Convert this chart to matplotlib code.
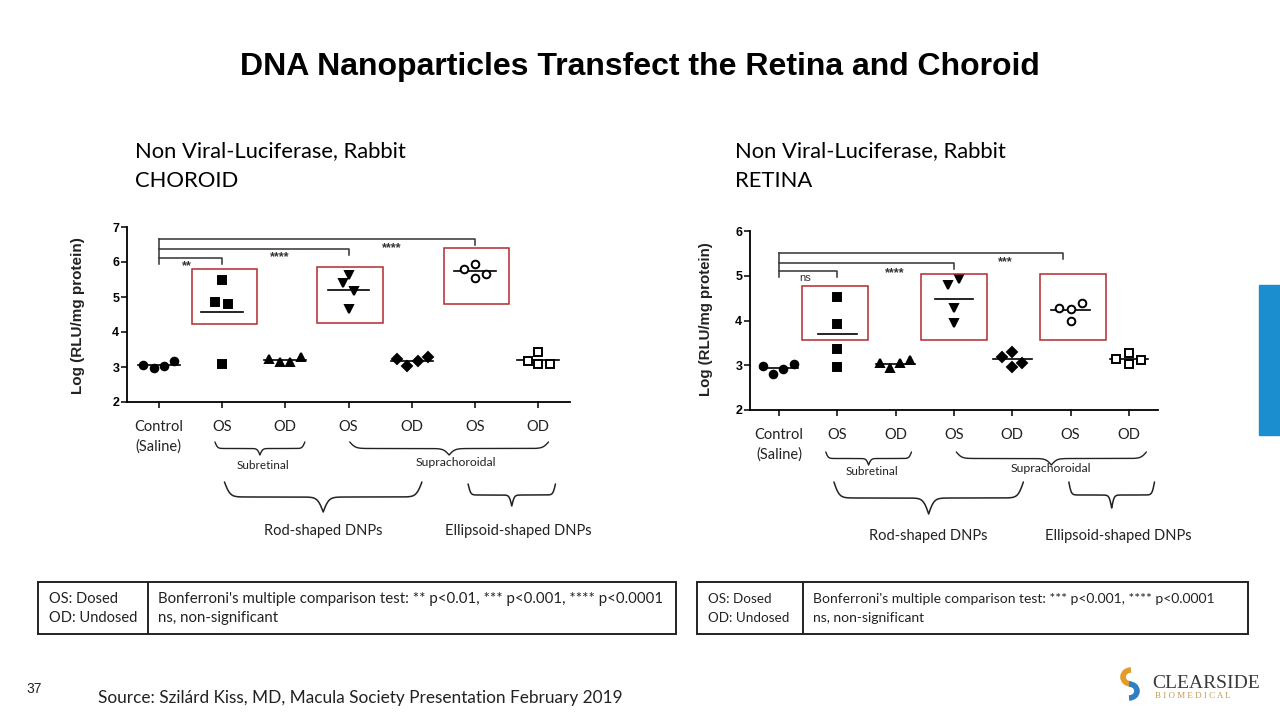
import numpy as np
import matplotlib.pyplot as plt
from matplotlib.patches import Rectangle, Arc
from matplotlib.transforms import Affine2D, blended_transform_factory

# ---------------- data ----------------
groups = ["Control\n(Saline)", "OS", "OD", "OS", "OD", "OS", "OD"]

choroid_vals = [
    [3.06, 2.96, 3.03, 3.18],
    [5.49, 4.87, 4.79, 3.10],
    [3.23, 3.13, 3.13, 3.30],
    [5.63, 5.39, 5.17, 4.65],
    [3.22, 3.04, 3.18, 3.30],
    [5.80, 5.94, 5.53, 5.66],
    [3.17, 3.44, 3.09, 3.10],
]
choroid_spread = [
    [-0.25, -0.08, 0.08, 0.25],
    [0.0, -0.11, 0.10, 0.0],
    [-0.26, -0.09, 0.08, 0.25],
    [0.0, -0.09, 0.09, 0.0],
    [-0.24, -0.07, 0.10, 0.26],
    [-0.18, 0.0, 0.0, 0.17],
    [-0.17, 0.0, 0.0, 0.18],
]

retina_vals = [
    [2.98, 2.80, 2.91, 3.03],
    [4.53, 3.92, 3.36, 2.95],
    [3.06, 2.93, 3.04, 3.12],
    [4.79, 4.92, 4.27, 3.95],
    [3.19, 3.30, 2.97, 3.06],
    [4.29, 4.25, 4.40, 4.00],
    [3.13, 3.27, 3.02, 3.12],
]
retina_spread = [
    [-0.27, -0.10, 0.07, 0.25],
    [0.0, 0.0, 0.0, 0.0],
    [-0.27, -0.09, 0.08, 0.25],
    [-0.11, 0.09, 0.0, 0.0],
    [-0.17, 0.0, 0.0, 0.17],
    [-0.20, 0.0, 0.20, 0.0],
    [-0.22, 0.0, 0.0, 0.20],
]

# marker style per group: (marker, filled)
styles = [('o', True), ('s', True), ('^', True), ('v', True), ('D', True),
          ('o', False), ('s', False)]

# significance brackets: (target group, bracket height, label, label x, label y)
choroid_sig = [(1, 6.12, "**", 0.45, 5.97), (3, 6.36, "****", 1.92, 6.22),
               (5, 6.66, "****", 3.68, 6.49)]
retina_sig = [(1, 5.11, "ns", 0.45, 4.94), (3, 5.29, "****", 1.99, 5.14),
              (4.87, 5.50, "***", 3.88, 5.37)]

CAL = 'Lato'
ARIAL = 'Liberation Sans'
RED = '#b3292e'

W, H = 1280, 720
fig = plt.figure(figsize=(12.8, 7.2), dpi=100)
fig.patch.set_facecolor('white')
px_tr = Affine2D().scale(1 / W, -1 / H).translate(0, 1) + fig.transFigure


def brace(ax, x0, x1, ytop, depth, lw=1.0):
    tr = blended_transform_factory(ax.transData, px_tr)
    n = 301
    xs = np.linspace(x0, x1, n)
    half = xs[:n // 2 + 1]
    beta = 70.0 / (x1 - x0)
    yh = 1 / (1 + np.exp(-beta * (half - half[0]))) + 1 / (1 + np.exp(-beta * (half - half[-1])))
    yb = np.concatenate([yh, yh[-2::-1]])
    ax.plot(xs, ytop + (yb - 0.5) * depth, transform=tr, color='#222222', lw=lw,
            clip_on=False, solid_capstyle='round')


def label_px(ax, x, ypx, s, size):
    tr = blended_transform_factory(ax.transData, px_tr)
    ax.text(x, ypx, s, transform=tr, ha='center', va='baseline', fontsize=size,
            family=CAL, color='#222222', clip_on=False)


def panel(rect, vals, spread, ymax, sig, sig_base, sig_drop, boxes):
    ax = fig.add_axes(rect)
    for i, (v, d) in enumerate(zip(vals, spread)):
        m, filled = styles[i]
        x = i + np.array(d)
        ax.plot(x, v, ls='none', marker=m, ms=5.5 if m != 'D' else 5,
                mfc='black' if filled else 'white', mec='black', mew=1.4,
                clip_on=False, zorder=3)
        mu = np.mean(v)
        ax.plot([i - 0.33, i + 0.33], [mu, mu], color='black', lw=1.2, zorder=2)
    ax.set_xlim(-0.5, 6.5)
    ax.set_ylim(2, ymax)
    ax.set_yticks(range(2, ymax + 1))
    ax.set_xticks(range(len(groups)))
    ax.set_xticklabels(groups, family=CAL, fontsize=10.5, linespacing=1.45,
                       color='#222222')
    for t in ax.get_yticklabels():
        t.set_fontweight('bold')
        t.set_family(ARIAL)
        t.set_fontsize(9)
    ax.tick_params(axis='x', length=4, width=1.1, pad=9)
    ax.tick_params(axis='y', length=4, width=1.1, pad=1.5)
    for s in ['top', 'right']:
        ax.spines[s].set_visible(False)
    for s in ['left', 'bottom']:
        ax.spines[s].set_linewidth(1.3)
    # significance brackets
    top = max(h for _, h, _, _, _ in sig)
    ax.plot([0, 0], [sig_base, top], color='#333333', lw=1.1, clip_on=False)
    for tgt, h, lab, lx, ly in sig:
        ax.plot([0, tgt, tgt], [h, h, h - sig_drop], color='#333333', lw=1.1,
                clip_on=False)
        if lab == 'ns':
            ax.text(lx, ly, lab, ha='center', va='center', fontsize=8,
                    family=ARIAL, color='#333333')
        else:
            ax.text(lx, ly - 0.09 * (ymax - 2) / 5, lab, ha='center', va='center',
                    fontsize=9, family=ARIAL, fontweight='bold', color='#333333')
    for (x0, x1, y0, y1) in boxes:
        ax.add_patch(Rectangle((x0, y0), x1 - x0, y1 - y0, fill=False,
                               ec=RED, lw=1.1, clip_on=False, zorder=4))
    return ax


ax1 = panel([127 / W, 1 - 402 / H, 443 / W, 175 / H], choroid_vals, choroid_spread, 7,
            choroid_sig, 5.93, 0.17,
            [(0.52, 1.55, 4.22, 5.79), (2.50, 3.55, 4.25, 5.85), (4.51, 5.54, 4.79, 6.39)])
ax2 = panel([750 / W, 1 - 410 / H, 408 / W, 179 / H], retina_vals, retina_spread, 6,
            retina_sig, 4.97, 0.13,
            [(0.39, 1.53, 3.56, 4.78), (2.44, 3.57, 3.56, 5.05), (4.47, 5.61, 3.56, 5.05)])

# braces and group labels
brace(ax1, 0.89, 2.31, 442, 13)
brace(ax1, 3.02, 6.16, 442, 13)
brace(ax1, 1.04, 4.16, 482, 30, lw=1.1)
brace(ax1, 4.89, 6.27, 484, 22, lw=1.1)
label_px(ax1, 1.65, 469, "Subretinal", 8.5)
label_px(ax1, 4.70, 466, "Suprachoroidal", 8.8)
label_px(ax1, 2.60, 535, "Rod-shaped DNPs", 10.5)
label_px(ax1, 5.68, 535, "Ellipsoid-shaped DNPs", 10.5)

brace(ax2, 0.80, 2.27, 452, 13)
brace(ax2, 3.04, 6.30, 452, 13)
brace(ax2, 0.94, 4.19, 482, 32, lw=1.1)
brace(ax2, 4.97, 6.44, 482, 26, lw=1.1)
label_px(ax2, 1.60, 475, "Subretinal", 8.5)
label_px(ax2, 4.66, 472, "Suprachoroidal", 8.8)
label_px(ax2, 2.55, 540, "Rod-shaped DNPs", 10.5)
label_px(ax2, 5.82, 540, "Ellipsoid-shaped DNPs", 10.5)

# y axis titles
fig.text(78 / W, 1 - 316 / H, "Log (RLU/mg protein)", rotation=90, ha='center',
         va='center', fontsize=11, fontweight='bold', family=ARIAL, color='#222222')
fig.text(706 / W, 1 - 319 / H, "Log (RLU/mg protein)", rotation=90, ha='center',
         va='center', fontsize=10.8, fontweight='bold', family=ARIAL, color='#222222')

# titles
fig.text(640 / W, 1 - 75 / H, "DNA Nanoparticles Transfect the Retina and Choroid",
         ha='center', va='baseline', fontsize=23, fontweight='bold', family=ARIAL)
for x0, tissue in [(135, "CHOROID"), (735, "RETINA")]:
    fig.text(x0 / W, 1 - 157 / H, "Non Viral-Luciferase, Rabbit", ha='left',
             va='baseline', fontsize=15.8, family=CAL)
    fig.text(x0 / W, 1 - 187 / H, tissue, ha='left', va='baseline', fontsize=15.8,
             family=CAL)

# footnote boxes: (left, right, divider, font size, test text)
notes = [
    (38, 676, 148, 10.8, "Bonferroni's multiple comparison test: ** p<0.01, *** p<0.001, **** p<0.0001"),
    (697, 1248, 803, 10.0, "Bonferroni's multiple comparison test: *** p<0.001, **** p<0.0001"),
]
for x0, x1, xd, fs, txt in notes:
    fig.patches.append(Rectangle((x0, 582), x1 - x0, 52, transform=px_tr, fill=False,
                                 ec='#222222', lw=1.4))
    fig.lines.append(plt.Line2D([xd, xd], [582, 634], transform=px_tr, color='#222222',
                                lw=1.4))
    fig.text((x0 + 11) / W, 1 - 603 / H, "OS: Dosed", va='baseline', fontsize=fs - 0.3,
             family=CAL, color='#222222')
    fig.text((x0 + 11) / W, 1 - 622 / H, "OD: Undosed", va='baseline', fontsize=fs - 0.3,
             family=CAL, color='#222222')
    fig.text((xd + 10) / W, 1 - 603 / H, txt, va='baseline', fontsize=fs,
             family=CAL, color='#222222')
    fig.text((xd + 10) / W, 1 - 622 / H, "ns, non-significant", va='baseline',
             fontsize=fs, family=CAL, color='#222222')

# footer
fig.text(26 / W, 1 - 693 / H, "37", va='baseline', fontsize=10, family=ARIAL,
         color='#222222')
fig.text(98 / W, 1 - 703 / H, "Source: Szilárd Kiss, MD, Macula Society Presentation February 2019",
         va='baseline', fontsize=12.4, family=CAL, color='#222222')

# side accent bar
fig.patches.append(Rectangle((1259, 285), 21, 150, transform=px_tr, color='#1b8ecf'))

# logo
fig.patches.append(Arc((1131, 677), 16, 14, theta1=90, theta2=270, transform=px_tr,
                       color='#e39b2c', lw=4))
fig.patches.append(Arc((1129, 691), 16, 14, theta1=-90, theta2=90, transform=px_tr,
                       color='#2f7fc1', lw=4))
fig.text(1152 / W, 1 - 688 / H, "CLEARSIDE", va='baseline', fontsize=14,
         family='Liberation Serif', color='#3a3a3a')
fig.text(1155 / W, 1 - 698 / H, "B I O M E D I C A L", va='baseline', fontsize=6.5,
         family='Liberation Serif', color='#c49a55')

fig.savefig('out.png', dpi=100)
